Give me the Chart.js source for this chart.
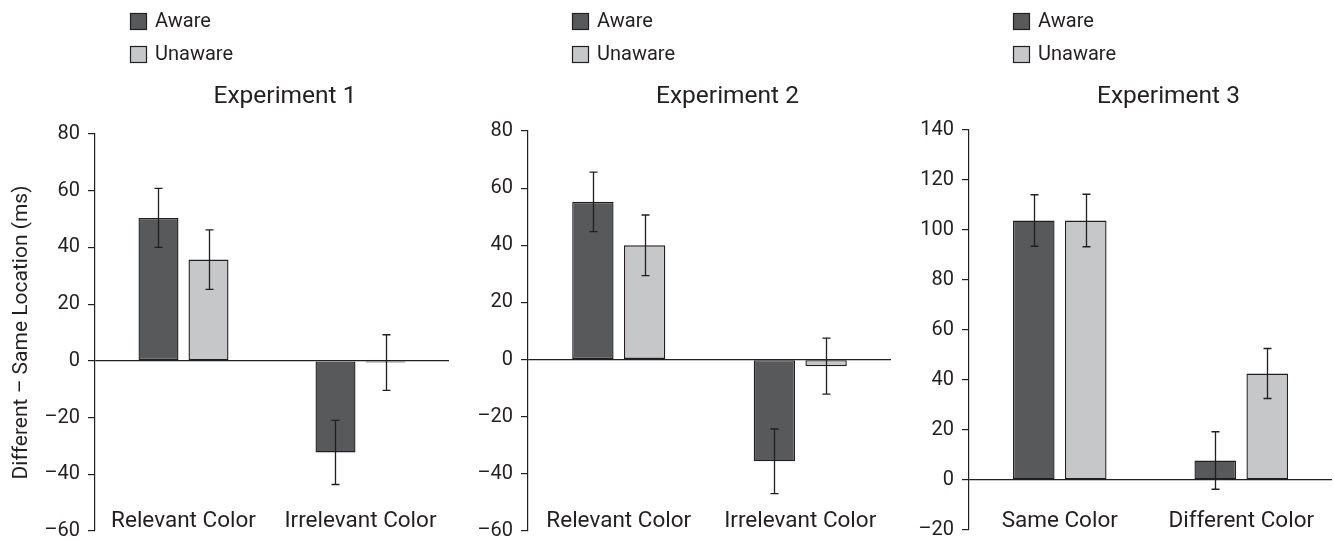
<!DOCTYPE html>
<html>
<head>
<meta charset="utf-8">
<script src="https://cdn.jsdelivr.net/npm/chart.js@4.4.1/dist/chart.umd.min.js"></script>
<style>
  html, body { margin: 0; padding: 0; background: #ffffff; }
  #wrap { position: relative; width: 1334px; height: 540px; overflow: hidden; }
  #wrap canvas { position: absolute; top: 0; }
</style>
</head>
<body>
<div id="wrap">
  <canvas id="exp1" width="455" height="540" style="left:0px"></canvas>
  <canvas id="exp2" width="440" height="540" style="left:455px"></canvas>
  <canvas id="exp3" width="439" height="540" style="left:895px"></canvas>
</div>
<script>
// Groups shown in every panel
const groupNames = ['Aware', 'Unaware'];

// Experiment 1: Different – Same Location (ms), means and standard errors
const exp1Categories = ['Relevant Color', 'Irrelevant Color'];
const exp1Aware = [50.4, -32.3];
const exp1AwareSE = [10.4, 11.3];
const exp1Unaware = [35.7, -0.6];
const exp1UnawareSE = [10.5, 9.8];

// Experiment 2
const exp2Categories = ['Relevant Color', 'Irrelevant Color'];
const exp2Aware = [55.2, -35.6];
const exp2AwareSE = [10.4, 11.3];
const exp2Unaware = [40.0, -2.3];
const exp2UnawareSE = [10.6, 9.8];

// Experiment 3
const exp3Categories = ['Same Color', 'Different Color'];
const exp3Aware = [103.8, 7.8];
const exp3AwareSE = [10.3, 11.5];
const exp3Unaware = [103.8, 42.6];
const exp3UnawareSE = [10.5, 10.0];

// Y-axis tick ranges [min, max, step]
const exp1YTicks = [-60, 80, 20];
const exp2YTicks = [-60, 80, 20];
const exp3YTicks = [-20, 140, 20];

const yTitle = 'Different \u2013 Same Location (ms)';

const INK = '#231f20';
const DARK = '#58595b';
const LIGHT = '#c6c7c9';
const FONT = "'Roboto', 'Liberation Sans', sans-serif";

// Vertical error bars with caps, drawn on top of each bar
const errorBars = {
  id: 'errorBars',
  afterDatasetsDraw(chart) {
    const ctx = chart.ctx;
    const y = chart.scales.y;
    ctx.save();
    ctx.strokeStyle = INK;
    ctx.lineWidth = 1.3;
    chart.data.datasets.forEach((ds, di) => {
      const meta = chart.getDatasetMeta(di);
      meta.data.forEach((bar, i) => {
        const v = ds.data[i], e = ds.err[i];
        const yTop = y.getPixelForValue(v + e);
        const yBot = y.getPixelForValue(v - e);
        const x = Math.round(bar.x) + 0.5;
        ctx.beginPath();
        ctx.moveTo(x, yTop); ctx.lineTo(x, yBot);
        ctx.moveTo(x - 4, yTop); ctx.lineTo(x + 4, yTop);
        ctx.moveTo(x - 4, yBot); ctx.lineTo(x + 4, yBot);
        ctx.stroke();
      });
    });
    ctx.restore();
  }
};

function makePanel(id, cfg) {
  const panelText = {
    id: 'panelText',
    afterDraw(chart) {
      const ctx = chart.ctx;
      const area = chart.chartArea;
      const xs = chart.scales.x;
      ctx.save();
      ctx.fillStyle = INK;
      ctx.textBaseline = 'middle';

      // stacked legend in the top-left corner
      chart.data.datasets.forEach((ds, i) => {
        const top = 13 + i * 33;
        ctx.fillStyle = ds.backgroundColor;
        ctx.fillRect(cfg.legendX, top, 16, 16);
        ctx.strokeStyle = INK;
        ctx.lineWidth = 1.2;
        ctx.strokeRect(cfg.legendX + 0.5, top + 0.5, 16, 16);
        ctx.fillStyle = INK;
        ctx.font = '20px ' + FONT;
        ctx.textAlign = 'left';
        ctx.fillText(ds.label, cfg.legendX + 25, top + 9);
      });

      // panel title
      ctx.font = '24.5px ' + FONT;
      ctx.textAlign = 'center';
      ctx.fillText(cfg.title, (area.left + area.right) / 2 + cfg.titleShift, 97);

      // category names along the bottom of the plot
      ctx.font = '22.5px ' + FONT;
      chart.data.labels.forEach((lab, i) => {
        ctx.fillText(lab, xs.getPixelForValue(i), 521);
      });
      ctx.restore();
    }
  };

  return new Chart(document.getElementById(id), {
    type: 'bar',
    data: {
      labels: cfg.categories,
      datasets: [
        { label: groupNames[0], data: cfg.aware, err: cfg.awareSE,
          backgroundColor: DARK, borderColor: INK, borderWidth: 1.4, borderSkipped: false },
        { label: groupNames[1], data: cfg.unaware, err: cfg.unawareSE,
          backgroundColor: LIGHT, borderColor: INK, borderWidth: 1.4, borderSkipped: false }
      ]
    },
    options: {
      responsive: false,
      animation: false,
      devicePixelRatio: 1,
      layout: { padding: { top: cfg.padTop, bottom: cfg.padBottom, left: 0, right: cfg.padRight } },
      datasets: { bar: { categoryPercentage: cfg.catPct, barPercentage: 0.8 } },
      plugins: { legend: { display: false }, tooltip: { enabled: false }, title: { display: false } },
      scales: {
        x: { display: false },
        y: {
          min: cfg.yTicks[0], max: cfg.yTicks[1],
          ticks: {
            stepSize: cfg.yTicks[2], padding: 8, color: INK,
            font: { family: FONT, size: 20 },
            callback: v => String(v).replace('-', '\u2013')
          },
          grid: {
            color: c => (c.tick && c.tick.value === 0) ? INK : 'rgba(0,0,0,0)',
            lineWidth: 1.2, drawTicks: true, tickLength: 7, tickColor: INK, tickWidth: 1.2
          },
          border: { display: true, color: INK, width: 1.2 },
          title: {
            display: !!cfg.showYTitle, text: yTitle, color: INK,
            font: { family: FONT, size: 21 }, padding: { top: 9, bottom: 0 }
          },
          afterFit: s => {
            s.width = cfg.axisWidth;
            s.paddingTop = 0;
            s.paddingBottom = 0;
          }
        }
      }
    },
    plugins: [errorBars, panelText]
  });
}

makePanel('exp1', {
  title: 'Experiment 1', categories: exp1Categories,
  aware: exp1Aware, awareSE: exp1AwareSE, unaware: exp1Unaware, unawareSE: exp1UnawareSE,
  yTicks: exp1YTicks, showYTitle: true,
  axisWidth: 95, padTop: 134, padBottom: 9, padRight: 6, catPct: 0.565,
  legendX: 130, titleShift: 13
});
makePanel('exp2', {
  title: 'Experiment 2', categories: exp2Categories,
  aware: exp2Aware, awareSE: exp2AwareSE, unaware: exp2Unaware, unawareSE: exp2UnawareSE,
  yTicks: exp2YTicks,
  axisWidth: 73, padTop: 131, padBottom: 9, padRight: 4, catPct: 0.57,
  legendX: 117, titleShift: 18
});
makePanel('exp3', {
  title: 'Experiment 3', categories: exp3Categories,
  aware: exp3Aware, awareSE: exp3AwareSE, unaware: exp3Unaware, unawareSE: exp3UnawareSE,
  yTicks: exp3YTicks,
  axisWidth: 74, padTop: 130, padBottom: 10, padRight: 2, catPct: 0.573,
  legendX: 118, titleShift: 18
});
</script>
</body>
</html>
